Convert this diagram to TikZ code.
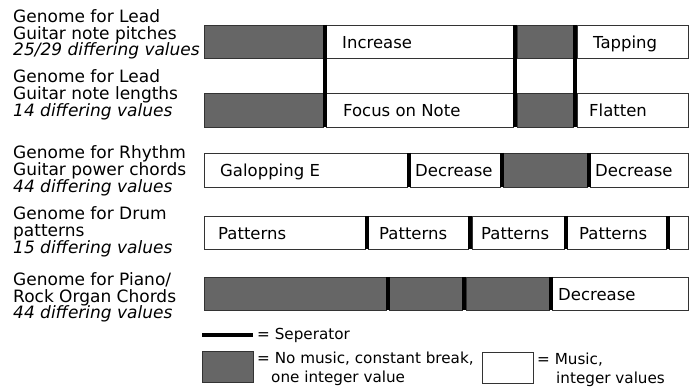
\documentclass[tikz,border=0pt]{standalone}
\usepackage{fontspec}
\setmainfont{DejaVu Sans}
\usetikzlibrary{fit}
\definecolor{nomusic}{HTML}{666666}
\definecolor{edge}{HTML}{333333}
\tikzset{
  seg/.style={draw=edge, line width=0.9pt, inner sep=0pt, outer sep=0pt},
  gray seg/.style={seg, fill=nomusic},
  white seg/.style={seg, fill=white},
  sepline/.style={line width=4pt, black},
  boxtext/.style={anchor=west, inner sep=0pt, text height=16.5pt, text depth=3pt, font=\fontsize{16.5}{16.5}\selectfont},
  genlabel/.style={anchor=west, align=left, inner sep=0pt, font=\fontsize{17}{16.8}\selectfont},
  legtext/.style={anchor=west, align=left, inner sep=0pt, font=\fontsize{15.2}{19}\selectfont},
}
\begin{document}
\begin{tikzpicture}[x=1pt, y=-1pt]
\useasboundingbox (0,0) rectangle (696,387);
% ---- labels
\node[genlabel] (l1) at (13,34.5) {Genome for Lead\\Guitar note pitches\\\textit{25/29 differing values}};
\node[genlabel] (l2) at (13,95) {Genome for Lead\\Guitar note lengths\\\textit{14 differing values}};
\node[genlabel] (l3) at (13,171) {Genome for Rhythm\\Guitar power chords\\\textit{44 differing values}};
\node[genlabel] (l4) at (13,232) {Genome for Drum\\patterns\\\textit{15 differing values}};
\node[genlabel] (l5) at (13,297.5) {Genome for Piano/\\Rock Organ Chords\\\textit{44 differing values}};
% ---- row 1
\node[gray seg, fit={(204,25) (323,58)}] (r1a) {};
\node[white seg, fit={(326,25) (513,58)}] (r1b) {};
\node[gray seg, fit={(517,25) (573,58)}] (r1c) {};
\node[white seg, fit={(577,25) (688,58)}] (r1d) {};
\node[boxtext] (t1b) at ([xshift=16pt]r1b.west) {Increase};
\node[boxtext] (t1d) at ([xshift=16pt]r1d.west) {Tapping};
% ---- row 2
\node[gray seg, fit={(204,93) (323,127)}] (r2a) {};
\node[white seg, fit={(326,93) (513,127)}] (r2b) {};
\node[gray seg, fit={(517,93) (573,127)}] (r2c) {};
\node[white seg, fit={(577,93) (688,127)}] (r2d) {};
\node[boxtext] (t2b) at ([xshift=17pt]r2b.west) {Focus on Note};
\node[boxtext] (t2d) at ([xshift=12pt]r2d.west) {Flatten};
\draw[sepline] (324.5,25) -- (324.5,127);
\draw[sepline] (515,25) -- (515,127);
\draw[sepline] (575,25) -- (575,127);
% ---- row 3
\node[white seg, fit={(204,153) (407,187)}] (r3a) {};
\node[white seg, fit={(410,153) (500,187)}] (r3b) {};
\node[gray seg, fit={(503,153) (587,187)}] (r3c) {};
\node[white seg, fit={(590,153) (688,187)}] (r3d) {};
\node[boxtext] (t3a) at ([xshift=16pt]r3a.west) {Galopping E};
\node[boxtext] (t3b) at ([xshift=5pt]r3b.west) {Decrease};
\node[boxtext] (t3d) at ([xshift=5pt]r3d.west) {Decrease};
\draw[sepline] (408.5,153) -- (408.5,187);
\draw[sepline] (501.5,153) -- (501.5,187);
\draw[sepline] (588.5,153) -- (588.5,187);
% ---- row 4
\node[white seg, fit={(204,216) (365,249)}] (r4a) {};
\node[white seg, fit={(368,216) (468,249)}] (r4b) {};
\node[white seg, fit={(472,216) (564,249)}] (r4c) {};
\node[white seg, fit={(567,216) (666,249)}] (r4d) {};
\node[white seg, fit={(669,216) (688,249)}] (r4e) {};
\node[boxtext] (t4a) at ([xshift=14pt]r4a.west) {Patterns};
\node[boxtext] (t4b) at ([xshift=11pt]r4b.west) {Patterns};
\node[boxtext] (t4c) at ([xshift=9pt]r4c.west) {Patterns};
\node[boxtext] (t4d) at ([xshift=12pt]r4d.west) {Patterns};
\draw[sepline] (366.5,216) -- (366.5,249);
\draw[sepline] (470,216) -- (470,249);
\draw[sepline] (565.5,216) -- (565.5,249);
\draw[sepline] (667.5,216) -- (667.5,249);
% ---- row 5
\node[gray seg, fit={(204,277) (386,310)}] (r5a) {};
\node[gray seg, fit={(389,277) (462,310)}] (r5b) {};
\node[gray seg, fit={(466,277) (549,310)}] (r5c) {};
\node[white seg, fit={(552,277) (688,310)}] (r5d) {};
\node[boxtext] (t5d) at ([xshift=6pt]r5d.west) {Decrease};
\draw[sepline] (387.5,277) -- (387.5,310);
\draw[sepline] (464,277) -- (464,310);
\draw[sepline] (550.5,277) -- (550.5,310);
% ---- legend
\coordinate (ls1) at (202,335);
\coordinate (ls2) at (253,335);
\draw[sepline] (ls1) -- (ls2);
\node[legtext] (lt1) at ([xshift=4pt]ls2) {= Seperator};
\node[gray seg, fit={(202,351) (253,382)}] (lg) {};
\node[legtext, anchor=north west] (lt2) at ([xshift=4pt, yshift=-1pt]lg.north east) {= No music, constant break,\\\hspace*{14pt}one integer value};
\node[white seg, fit={(482,352) (533,383)}] (lw) {};
\node[legtext, anchor=north west] (lt3) at ([xshift=4pt, yshift=-1pt]lw.north east) {= Music,\\\hspace*{19pt}integer values};
\end{tikzpicture}
\end{document}
